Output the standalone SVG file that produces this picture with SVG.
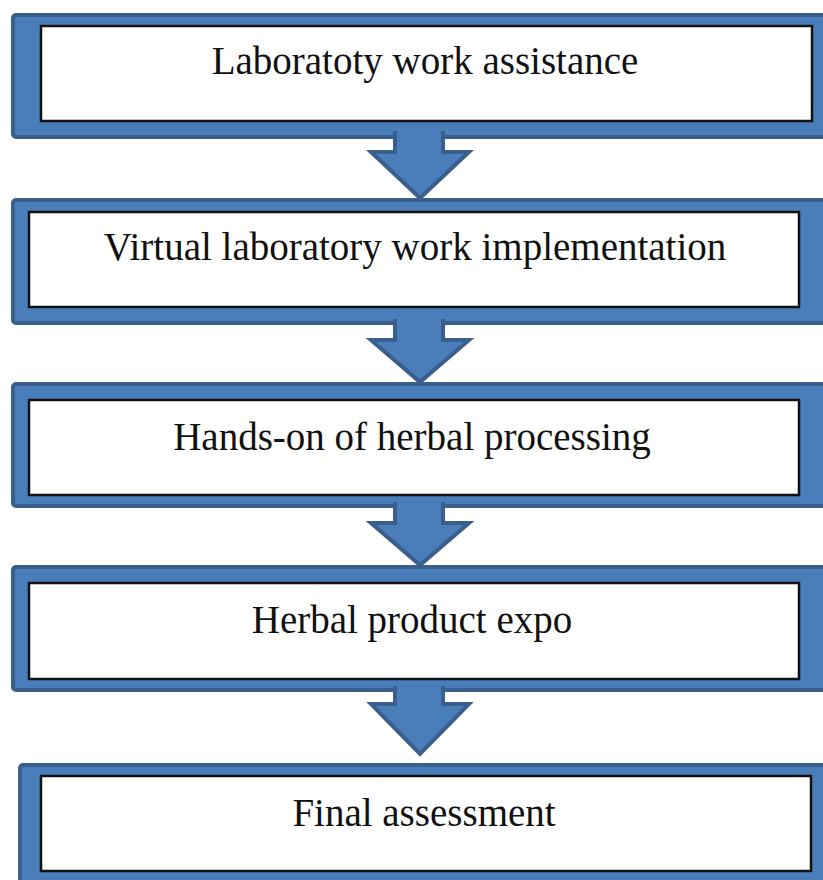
<svg xmlns="http://www.w3.org/2000/svg" width="823" height="880" viewBox="0 0 823 880">
<style>
.frame{fill:#4a7ebb;stroke:#3a5f8c;stroke-width:4}
.inner{fill:#ffffff;stroke:#111111;stroke-width:2.5}
.lbl{font-family:"Liberation Serif","Times New Roman",serif;font-size:39px;fill:#111111;text-anchor:middle}
.afill{fill:#4a7ebb;stroke:none}
.aline{fill:none;stroke:#3a5f8c;stroke-width:4;stroke-linejoin:miter}
</style>
<rect width="823" height="880" fill="#ffffff"/>
<g id="node1">
<rect class="frame" x="13" y="15" width="830" height="122" rx="3"/>
<rect class="inner" x="41" y="26" width="771" height="95"/>
<text class="lbl" x="425" y="74">Laboratoty work assistance</text>
</g>
<g id="node2">
<rect class="frame" x="13" y="200" width="830" height="123" rx="3"/>
<rect class="inner" x="29" y="212" width="770" height="95"/>
<text class="lbl" x="415" y="260">Virtual laboratory work implementation</text>
</g>
<g id="node3">
<rect class="frame" x="13" y="384" width="830" height="122" rx="3"/>
<rect class="inner" x="29" y="400" width="770" height="95"/>
<text class="lbl" x="412" y="450">Hands-on of herbal processing</text>
</g>
<g id="node4">
<rect class="frame" x="13" y="567" width="830" height="123" rx="3"/>
<rect class="inner" x="29" y="583" width="770" height="96"/>
<text class="lbl" x="412" y="633">Herbal product expo</text>
</g>
<g id="node5">
<rect class="frame" x="20" y="765" width="830" height="130" rx="3"/>
<rect class="inner" x="41" y="776" width="770" height="95"/>
<text class="lbl" x="424" y="826">Final assessment</text>
</g>
<g id="connectors">
<path class="afill" d="M395,128 L443,128 L443,152 L469,152 L420,198 L371,152 L395,152 Z"/>
<path class="aline" d="M443,131 L443,152 L469,152 L420,198 L371,152 L395,152 L395,131"/>
<path class="afill" d="M395,316 L443,316 L443,340 L469,340 L420,382 L371,340 L395,340 Z"/>
<path class="aline" d="M443,319 L443,340 L469,340 L420,382 L371,340 L395,340 L395,319"/>
<path class="afill" d="M395,499 L443,499 L443,523 L469,523 L420,565 L371,523 L395,523 Z"/>
<path class="aline" d="M443,502 L443,523 L469,523 L420,565 L371,523 L395,523 L395,502"/>
<path class="afill" d="M395,683 L443,683 L443,704 L469,704 L420,754 L371,704 L395,704 Z"/>
<path class="aline" d="M443,686 L443,704 L469,704 L420,754 L371,704 L395,704 L395,686"/>
</g>
</svg>
